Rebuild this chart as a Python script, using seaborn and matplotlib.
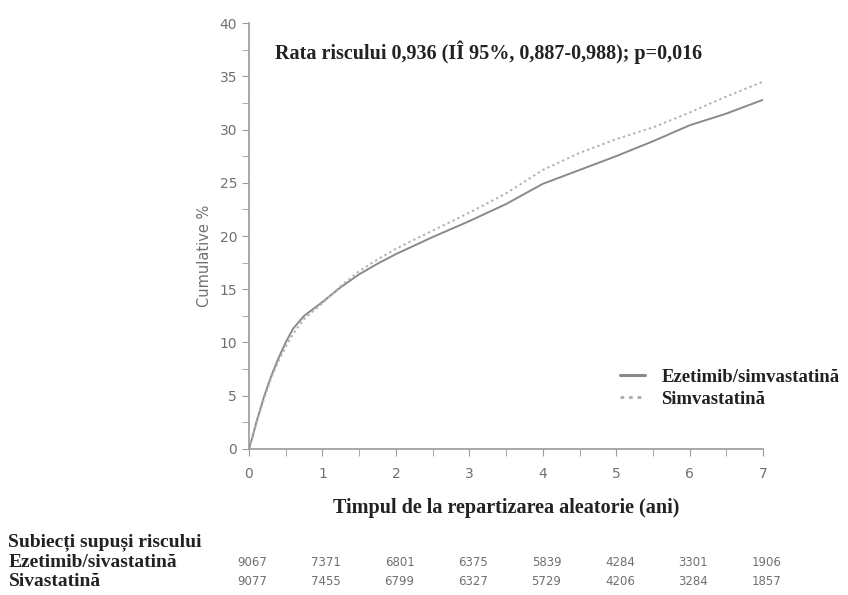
import numpy as np
import pandas as pd
import matplotlib
matplotlib.use("Agg")
import matplotlib.pyplot as plt
import seaborn as sns

# curve values (years, cumulative %)
years = [0, 0.05, 0.1, 0.2, 0.3, 0.4, 0.5, 0.6, 0.75, 1.0, 1.25, 1.5, 1.75, 2.0, 2.5,
         3.0, 3.5, 4.0, 4.5, 5.0, 5.5, 6.0, 6.5, 7.0]
eze_simva = [0, 1.2, 2.5, 4.8, 6.8, 8.5, 10.0, 11.3, 12.5, 13.8, 15.2, 16.4, 17.4, 18.3, 19.9,
             21.4, 23.0, 24.9, 26.2, 27.5, 28.9, 30.4, 31.5, 32.8]
simva = [0, 1.1, 2.4, 4.6, 6.6, 8.2, 9.6, 10.8, 12.2, 13.7, 15.3, 16.7, 17.8, 18.8, 20.5,
         22.2, 24.0, 26.2, 27.8, 29.1, 30.2, 31.6, 33.1, 34.5]

series_names = ["Ezetimib/simvastatină", "Simvastatină"]
tick_years = [0, 1, 2, 3, 4, 5, 6, 7]
risk_rows = ["Ezetimib/sivastatină", "Sivastatină"]
risk_eze = [9067, 7371, 6801, 6375, 5839, 4284, 3301, 1906]
risk_simva = [9077, 7455, 6799, 6327, 5729, 4206, 3284, 1857]

df = pd.DataFrame({
    "years": years * 2,
    "pct": eze_simva + simva,
    "group": [series_names[0]] * len(years) + [series_names[1]] * len(years),
})

sns.set_style("ticks")
plt.rcParams["font.family"] = ["DejaVu Sans"]
serif = ["Liberation Serif", "DejaVu Serif"]
gray = "#707070"
dark = "#222222"

fig = plt.figure(figsize=(8.48, 5.95), dpi=100)
ax = fig.add_axes([0.2936, 0.2454, 0.6064, 0.7159])

sns.lineplot(data=df, x="years", y="pct", hue="group", style="group",
             palette=["#8a8a8a", "#b0b0b0"], dashes=[(None, None), (1.2, 1.6)],
             linewidth=1.4, ax=ax, legend=True)

ax.set_xlim(0, 7)
ax.set_ylim(0, 40)
ax.set_xticks(tick_years)
ax.set_xticks(np.arange(0.5, 7, 1), minor=True)
ax.set_yticks(np.arange(0, 41, 5))
ax.set_yticks(np.arange(2.5, 40, 5), minor=True)
sns.despine(ax=ax)
for side in ["left", "bottom"]:
    ax.spines[side].set_color("#9a9a9a")
    ax.spines[side].set_linewidth(1.2)
ax.tick_params(which="both", colors="#9a9a9a", labelcolor=gray, labelsize=10, length=5)
ax.tick_params(axis="x", pad=8)

ax.set_ylabel("Cumulative %", color=gray, fontsize=10.5)
ax.yaxis.set_label_coords(-0.072, 0.453)
ax.set_xlabel("Timpul de la repartizarea aleatorie (ani)", family=serif,
              fontweight="bold", fontsize=14.5, color=dark, labelpad=12)

ax.text(0.05, 0.932, "Rata riscului 0,936 (IÎ 95%, 0,887-0,988); p=0,016",
        transform=ax.transAxes, family=serif, fontweight="bold", fontsize=14.5,
        color=dark, va="center")

leg = ax.legend(loc="upper left", bbox_to_anchor=(0.722, 0.188), frameon=False,
                prop={"family": serif, "weight": "bold", "size": 13.5},
                handlelength=1.3, handletextpad=0.9, labelspacing=0.25,
                borderaxespad=0, borderpad=0)
for t in leg.get_texts():
    t.set_color(dark)
for h in leg.get_lines():
    h.set_linewidth(2.2)

# risk table
row_y = [0.055, 0.022]
fig.text(0.01, 0.089, "Subiecți supuși riscului", family=serif,
         fontweight="bold", fontsize=14, color=dark, va="center")
trans = matplotlib.transforms.blended_transform_factory(ax.transData, fig.transFigure)
for y, name, vals in zip(row_y, risk_rows, [risk_eze, risk_simva]):
    fig.text(0.01, y, name, family=serif, fontweight="bold", fontsize=14,
             color=dark, va="center")
    for t, v in zip(tick_years, vals):
        ax.text(t + 0.05, y, str(v), transform=trans, ha="center", va="center",
                fontsize=8.5, color=gray)

fig.savefig("out.png", dpi=100)
